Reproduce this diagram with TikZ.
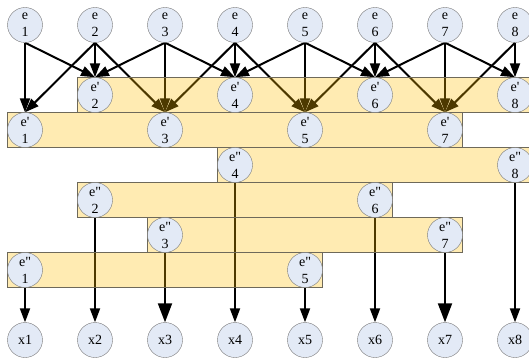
\documentclass[tikz,border=0pt]{standalone}
\usepackage{fontspec}
\setmainfont{Liberation Serif}[Ligatures=TeXOff]
\usetikzlibrary{arrows.meta}
\definecolor{nodefill}{RGB}{227,234,246}
\definecolor{nodeline}{RGB}{120,120,120}
\definecolor{bandfill}{RGB}{255,190,0}
\definecolor{bandline}{RGB}{110,105,90}
\pgfdeclarelayer{arrowlayer}
\pgfdeclarelayer{bandlayer}
\pgfsetlayers{arrowlayer,bandlayer,main}
\tikzset{
    EN/.style ={circle,minimum size=35pt,inner sep=0pt,draw=nodeline,fill=nodefill,align=center,font=\fontsize{14}{17}\selectfont},
    BA/.style ={draw=bandline,fill=bandfill,fill opacity=.3},
    AR/.style ={line width=2pt,-{Triangle[length=14pt,width=10pt]}},
    AR2/.style ={line width=2pt,-{Triangle[length=19pt,width=14pt]}}
}

\begin{document}
\begin{tikzpicture}[x=1pt,y=-1pt]
        \useasboundingbox (0,0) rectangle (529,358);
        \foreach \i in {1,...,8} {
            \node[EN] (e\i) at ({25+70*(\i-1)},25) {e\\\i};
            \node[EN] (x\i) at ({25+70*(\i-1)},340) {x\i};
        }
        \foreach \i/\y in {1/130,2/95,3/130,4/95,5/130,6/95,7/130,8/95}
            \node[EN] (ep\i) at ({25+70*(\i-1)},\y) {e'\\\i};
        \foreach \i/\y in {1/270,2/200,3/235,4/165,5/270,6/200,7/235,8/165}
            \node[EN] (epp\i) at ({25+70*(\i-1)},\y) {e"\\\i};
        \begin{pgfonlayer}{arrowlayer}
        \foreach \i in {1,...,8}
            \draw[AR] (e\i.south) -- (ep\i.north);
        \foreach \i [evaluate=\i as \j using int(\i+1)] in {1,...,7} {
            \draw[AR] (e\i.south) -- (ep\j.north);
            \draw[AR] (e\j.south) -- (ep\i.north);
        }
        \foreach \i in {1,2,4,5,6,8}
            \draw[AR] (epp\i.south) -- (x\i.north);
        \foreach \i in {3,7}
            \draw[AR2] (epp\i.south) -- (x\i.north);
        \end{pgfonlayer}
        \begin{pgfonlayer}{bandlayer}
        \draw[BA] (77.5,77.5) rectangle (540,112.5);
        \draw[BA] (7.5,112.5) rectangle (462.5,147.5);
        \draw[BA] (217.5,147.5) rectangle (540,182.5);
        \draw[BA] (77.5,182.5) rectangle (392.5,217.5);
        \draw[BA] (147.5,217.5) rectangle (462.5,252.5);
        \draw[BA] (7.5,252.5) rectangle (322.5,287.5);
        \end{pgfonlayer}
    \end{tikzpicture}
\end{document}
